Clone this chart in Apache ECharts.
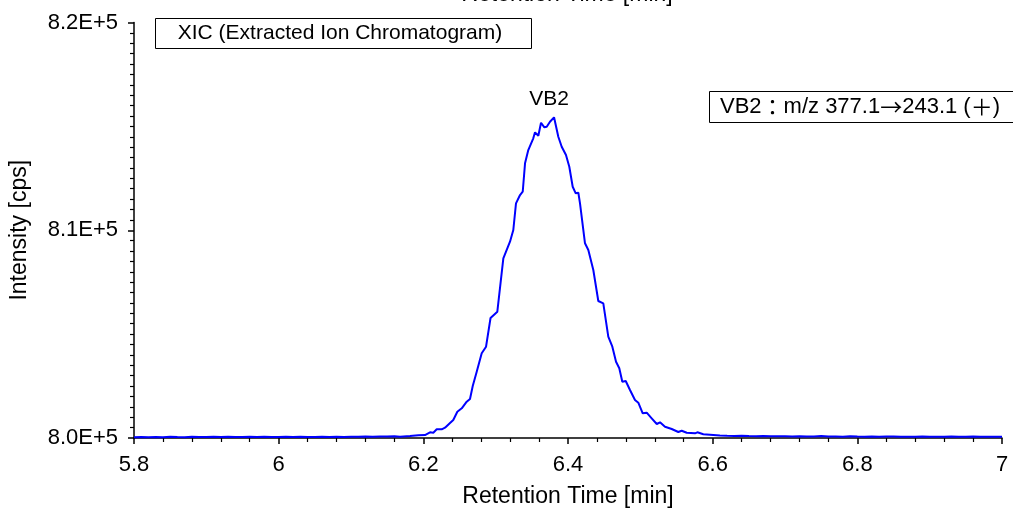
<!DOCTYPE html>
<html>
<head>
<meta charset="utf-8">
<script src="https://cdn.jsdelivr.net/npm/echarts@6/dist/echarts.min.js"></script>
<style>
html,body{margin:0;padding:0;background:#fff;}
#chart{width:1013px;height:509px;}
</style>
</head>
<body>
<div id="chart"></div>
<script>
// Retention time (min) and intensity (cps)
var retentionTime = [
  5.80,5.81,5.82,5.83,5.84,5.85,5.86,5.87,5.88,5.89,5.90,5.91,5.92,5.93,5.94,5.95,5.96,5.97,5.98,5.99,
  6.00,6.01,6.02,6.03,6.04,6.05,6.06,6.07,6.08,6.09,6.10,6.11,6.12,6.13,6.14,6.15,6.16,
  6.1678,6.1816,6.1931,6.2023,6.2092,6.2138,6.2185,6.2254,6.2300,6.2369,6.2414,6.2470,6.2531,6.2600,
  6.2645,6.2683,6.2738,6.2807,6.2867,6.2929,6.3023,6.3106,6.3198,6.3244,6.3281,6.3337,6.3374,6.3406,
  6.3451,6.3520,6.3544,6.3590,6.3627,6.3673,6.3706,6.3751,6.3807,6.3866,6.3913,6.3972,6.4018,6.4065,
  6.4107,6.4143,6.4166,6.4235,6.4281,6.4350,6.4419,6.4488,6.4557,6.4613,6.4664,6.4709,6.4751,6.4798,
  6.4857,6.4926,6.4972,6.5033,6.5088,6.5157,6.5227,6.5272,6.5341,6.5434,6.5525,6.5572,6.5641,6.5756,
  6.5788,6.5871,6.6009,
  6.61,6.62,6.63,6.64,6.65,6.66,6.67,6.68,6.69,6.70,6.71,6.72,6.73,6.74,6.75,6.76,6.77,6.78,6.79,6.80,
  6.81,6.82,6.83,6.84,6.85,6.86,6.87,6.88,6.89,6.90,6.91,6.92,6.93,6.94,6.95,6.96,6.97,6.98,6.99,7.00
];
var intensity = [
  800040,800045,800038,800050,800042,800055,800047,800040,800060,800052,800045,800058,800048,800062,800050,800044,800056,800049,800060,800051,
  800046,800058,800050,800063,800052,800047,800059,800054,800061,800050,800066,800058,800070,800062,800075,800068,800085,
  800063,800096,800130,800144,800274,800255,800419,800419,800496,800722,800866,801266,801429,801747,
  801877,802503,803191,804077,804394,805776,806079,808649,809448,810011,811296,811696,811854,813221,
  813861,814425,814713,814550,815175,814954,814983,815223,815435,814502,814020,813621,813058,812095,
  811777,811806,811296,809371,809048,808086,806594,806483,804876,804394,803672,803355,802710,802743,
  802310,801829,801699,801189,801218,800948,800674,800756,800544,800433,800289,800351,800255,800226,
  800274,800178,800144,
  800120,800105,800098,800110,800092,800088,800100,800085,800079,800090,800075,800082,800070,800078,800092,800068,800074,800066,800088,800070,
  800062,800075,800060,800068,800072,800058,800066,800061,800073,800057,800064,800059,800068,800055,800062,800070,800058,800066,800060,800064
];
var yTickLabels = {800000: '8.0E+5', 810000: '8.1E+5', 820000: '8.2E+5'};
var peakName = 'VB2';
var titleText = 'XIC (Extracted Ion Chromatogram)';
var transitionText = '{a|VB2}{c|\uFF1A}{a|m/z 377.1}{c|\u2192}{a|243.1 (}{c|\uFF0B}{a|)}';
var xName = 'Retention Time [min]';
var yName = 'Intensity [cps]';

var seriesData = retentionTime.map(function (t, i) { return [t, intensity[i]]; });
var FONT = 'Liberation Sans';
var CJK = 'Noto Sans CJK JP';

var chart = echarts.init(document.getElementById('chart'));
chart.setOption({
  animation: false,
  backgroundColor: '#ffffff',
  grid: {left: 134, right: 11, top: 22.5, bottom: 71, containLabel: false, outerBoundsMode: 'none'},
  xAxis: {
    type: 'value', min: 5.8, max: 7, interval: 0.2,
    name: xName, nameLocation: 'middle', nameGap: 47,
    nameTextStyle: {fontFamily: FONT, fontSize: 23, color: '#000'},
    axisLine: {show: true, onZero: false, lineStyle: {color: '#000', width: 1.5}},
    axisTick: {show: true, inside: false, length: 6, lineStyle: {color: '#000', width: 1.5}},
    minorTick: {show: true, splitNumber: 5, length: 4, lineStyle: {color: '#000', width: 1.2}},
    axisLabel: {fontFamily: FONT, fontSize: 22, color: '#000', margin: 16,
      formatter: function (v) { return String(Math.round(v * 10) / 10); }},
    splitLine: {show: false}
  },
  yAxis: {
    type: 'value', min: 800000, max: 820000, interval: 10000,
    name: yName, nameLocation: 'middle', nameGap: 103, nameRotate: 90,
    nameTextStyle: {fontFamily: FONT, fontSize: 23, color: '#000'},
    axisLine: {show: true, onZero: false, lineStyle: {color: '#000', width: 1.5}},
    axisTick: {show: true, inside: false, length: 6, lineStyle: {color: '#000', width: 1.5}},
    minorTick: {show: true, splitNumber: 20, length: 4, lineStyle: {color: '#000', width: 1.2}},
    axisLabel: {fontFamily: FONT, fontSize: 22, color: '#000', margin: 16,
      formatter: function (v) { return yTickLabels[v] || ''; }},
    splitLine: {show: false}
  },
  series: [{
    type: 'line',
    data: seriesData,
    showSymbol: false,
    symbol: 'none',
    lineStyle: {color: '#0000ff', width: 2},
    clip: true,
    markPoint: {
      symbol: 'circle', symbolSize: 0,
      label: {show: true, position: 'top', distance: 8, offset: [-5, 0],
        formatter: peakName, fontFamily: FONT, fontSize: 21, color: '#000'},
      data: [{type: 'max'}]
    }
  }],
  graphic: [
    {type: 'rect', left: 155, top: 18, shape: {width: 376, height: 30},
      style: {fill: '#fff', stroke: '#000', lineWidth: 1}},
    {type: 'text', x: 340, y: 33, style: {text: titleText, fontFamily: FONT, fontSize: 21,
      fill: '#000', align: 'center', verticalAlign: 'middle'}},
    {type: 'rect', left: 709, top: 91, shape: {width: 310, height: 31},
      style: {fill: '#fff', stroke: '#000', lineWidth: 1}},
    {type: 'text', x: 860, y: 106.5, style: {text: transitionText,
      fill: '#000', align: 'center', verticalAlign: 'middle',
      rich: {
        a: {fontFamily: FONT, fontSize: 22, fill: '#000'},
        c: {fontFamily: CJK, fontSize: 22, fill: '#000'}
      }}},
    {type: 'text', x: 567, y: -5, style: {text: xName, fontFamily: FONT, fontSize: 23,
      fill: '#000', align: 'center', verticalAlign: 'middle'}}
  ]
});
</script>
</body>
</html>
